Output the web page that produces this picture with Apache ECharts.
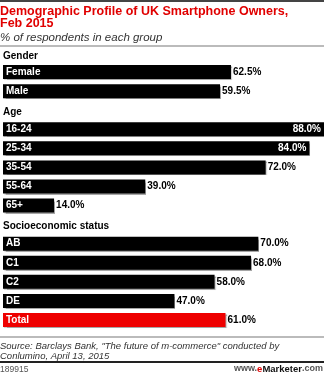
<!DOCTYPE html>
<html><head><meta charset="utf-8">
<script src="https://cdn.jsdelivr.net/npm/echarts@6/dist/echarts.min.js"></script>
<style>html,body{margin:0;padding:0;background:#fff}#c{width:324px;height:374px}</style>
</head><body><div id="c"></div>
<script>
const categories = ['Gender','Female','Male','Age','16-24','25-34','35-54','55-64','65+','Socioeconomic status','AB','C1','C2','DE','Total'];
const values = [null,62.5,59.5,null,88.0,84.0,72.0,39.0,14.0,null,70.0,68.0,58.0,47.0,61.0];
const headers = ['Gender','Age','Socioeconomic status'];
const insideLabels = ['16-24','25-34'];
const highlight = 'Total';

const chart = echarts.init(document.getElementById('c'), null, {renderer:'canvas'});
const F = 'Arial, "Liberation Sans", sans-serif';
const data = values.map((v,i)=>{
  if (v === null) return {value: null};
  const d = {value: v};
  if (categories[i] === highlight) d.itemStyle = {color:'#ee0000'};
  if (insideLabels.includes(categories[i])) d.label = {position:'insideRight', color:'#fff', distance:3};
  return d;
});
chart.setOption({
  animation:false,
  title:[
    {text:'Demographic Profile of UK Smartphone Owners,\nFeb 2015', left:0, top:5, padding:0, textStyle:{color:'#e00000', fontFamily:F, fontWeight:'bold', fontSize:12.5, lineHeight:12.5}},
    {text:'% of respondents in each group', left:0, top:32, padding:0, textStyle:{color:'#333', fontFamily:F, fontStyle:'italic', fontWeight:'normal', fontSize:11.5}},
    {text:'Source: Barclays Bank, "The future of m-commerce" conducted by\nConlumino, April 13, 2015', left:0, top:341, padding:0, textStyle:{color:'#333', fontFamily:F, fontStyle:'italic', fontWeight:'normal', fontSize:9.5, lineHeight:10}},
    {text:'189915', left:0, top:365, padding:0, textStyle:{color:'#555', fontFamily:F, fontWeight:'normal', fontSize:8.5}},
    {text:'{g|www.}{e|e}{m|Marketer}{g|.com}', right:1, top:364, padding:0, textStyle:{fontFamily:F, fontSize:9, rich:{g:{color:'#555',fontSize:9,fontFamily:F},e:{color:'#e00000',fontWeight:'bold',fontSize:9.5,fontFamily:F},m:{color:'#111',fontWeight:'bold',fontSize:9.5,fontFamily:F}}}}
  ],
  graphic:[
    {type:'rect', shape:{x:0,y:0,width:324,height:2}, style:{fill:'#444'}},
    {type:'rect', shape:{x:0,y:45,width:324,height:2}, style:{fill:'#bbb'}},
    {type:'rect', shape:{x:0,y:336,width:324,height:2}, style:{fill:'#bbb'}},
    {type:'rect', shape:{x:0,y:361,width:324,height:2}, style:{fill:'#222'}}
  ],
  grid:{left:1, right:0, top:43.5, height:286, containLabel:false},
  xAxis:{type:'value', min:0, max:88, show:false},
  yAxis:{type:'category', data:categories, inverse:true, z:10,
    axisLine:{show:false}, axisTick:{show:false}, splitLine:{show:false},
    axisLabel:{inside:true, margin:0, formatter:(v)=> v==='Gender' ? '{g|'+v+'}' : headers.includes(v) ? '{h|'+v+'}' : '{b|'+v+'}',
      rich:{g:{color:'#000',fontWeight:'bold',fontSize:10,fontFamily:F,padding:[7,0,0,0]}, h:{color:'#000',fontWeight:'bold',fontSize:10,fontFamily:F,padding:[4,0,0,0]}, b:{color:'#fff',fontWeight:'bold',fontSize:10,fontFamily:F,padding:[0,0,0,3]}}}},
  series:[{type:'bar', data:data, barWidth:14, itemStyle:{color:'#000', shadowColor:'rgba(0,0,0,0.35)', shadowOffsetX:1, shadowOffsetY:1, shadowBlur:1},
    label:{show:true, position:'right', distance:2, color:'#000', fontWeight:'bold', fontSize:10, fontFamily:F, formatter:(p)=>p.value.toFixed(1)+'%'}}]
});
</script></body></html>
